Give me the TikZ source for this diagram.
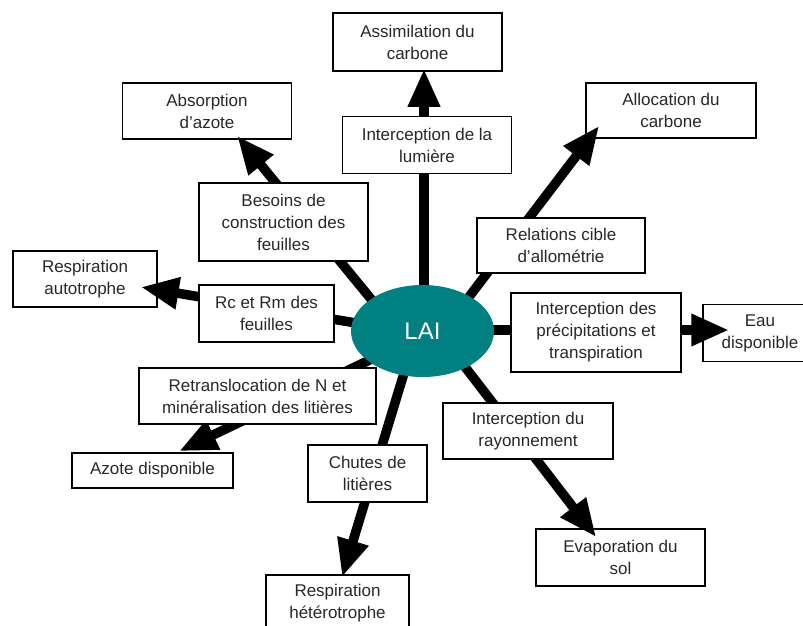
\documentclass[tikz,border=0pt]{standalone}
\usepackage{fontspec}
\setmainfont{Liberation Sans}
\usetikzlibrary{arrows.meta,calc,shapes.geometric}
\pgfdeclarelayer{arrows}
\pgfdeclarelayer{front}
\pgfsetlayers{main,arrows,front}
\definecolor{laiteal}{RGB}{0,128,128}
\definecolor{txtgray}{RGB}{40,40,40}
\begin{document}
\begin{tikzpicture}[x=1pt,y=-1pt,
  box/.style={draw=black,line width=1.5pt,fill=white,inner sep=0pt,align=center,
    text=txtgray,font=\fontsize{17}{22}\selectfont},
  flow/.style={line width=9.5pt,-{Triangle[length=38pt,width=30pt]},draw=black},
  laistyle/.style={ellipse,fill=laiteal,inner sep=0pt,text=white,
    font=\fontsize{24}{28}\selectfont}]
\useasboundingbox (0,0) rectangle (803,625);
\fill[white] (0,0) rectangle (803,625);

% outer boxes
\node[box,minimum width=169pt,minimum height=58pt] (assim) at (417.5,42) {Assimilation du\\carbone};
\node[box,minimum width=169pt,minimum height=56pt] (absorp) at (207,111) {Absorption\\d’azote};
\node[box,minimum width=170pt,minimum height=55pt] (alloc) at (671,110.5) {Allocation du\\carbone};
\node[box,minimum width=144pt,minimum height=56pt] (respauto) at (85,279) {Respiration\\autotrophe};
\node[box,minimum width=114pt,minimum height=57pt] (eau) at (760,333) {Eau\\disponible};
\node[box,minimum width=161pt,minimum height=35pt] (azote) at (152.5,470.5) {Azote disponible};
\node[box,minimum width=143pt,minimum height=56pt] (resphet) at (337.5,603) {Respiration\\hétérotrophe};
\node[box,minimum width=169pt,minimum height=57pt] (evap) at (620.5,557.5) {Evaporation du\\sol};

% central ellipse and intermediate boxes
\begin{pgfonlayer}{front}
\node[laistyle,minimum width=143pt,minimum height=92pt] (lai) at (422.5,331) {LAI};
\node[box,minimum width=169pt,minimum height=57pt] (lum) at (427,145) {Interception de la\\lumière};
\node[box,minimum width=169pt,minimum height=78pt] (besoins) at (283.5,222) {Besoins de\\construction des\\feuilles};
\node[box,minimum width=168pt,minimum height=55pt] (relations) at (561,245.5) {Relations cible\\d’allométrie};
\node[box,minimum width=135pt,minimum height=57pt] (rc) at (266.5,313.5) {Rc et Rm des\\feuilles};
\node[box,minimum width=170pt,minimum height=79pt] (precip) at (596,332.5) {Interception des\\précipitations et\\transpiration};
\node[box,minimum width=237pt,minimum height=56pt] (retrans) at (257.5,396) {Retranslocation de N et\\minéralisation des litières};
\node[box,minimum width=119pt,minimum height=57pt] (chutes) at (367.5,473.5) {Chutes de\\litières};
\node[box,minimum width=170pt,minimum height=56pt] (rayon) at (528,431) {Interception du\\rayonnement};
\end{pgfonlayer}

% connectors
\begin{pgfonlayer}{arrows}
\draw[flow] ($(lai.center)+(1.5,0)$) -- ($(assim.south)+(6.5,-3)$);
\draw[flow] ($(lai.center)+(-37.5,-15)$) -- ($(absorp.south)+(30,-4)$);
\draw[flow] ($(lai.center)+(36.5,-21)$) -- ($(alloc.south west)+(14,-13)$);
\draw[flow] ($(lai.center)+(-42.5,-4)$) -- ($(respauto.east)+(-17,8)$);
\draw[flow] ($(lai.center)+(0,-1)$) -- ($(eau.west)+(27,-3)$);
\draw[flow] ($(lai.center)+(-42.5,24)$) -- ($(azote.north)+(26.5,-1)$);
\draw[flow] ($(lai.center)+(-14.5,29)$) -- ($(resphet.north)+(4.5,3)$);
\draw[flow] ($(lai.center)+(29.5,19)$) -- ($(evap.north west)+(61,9)$);
\end{pgfonlayer}
\end{tikzpicture}
\end{document}
